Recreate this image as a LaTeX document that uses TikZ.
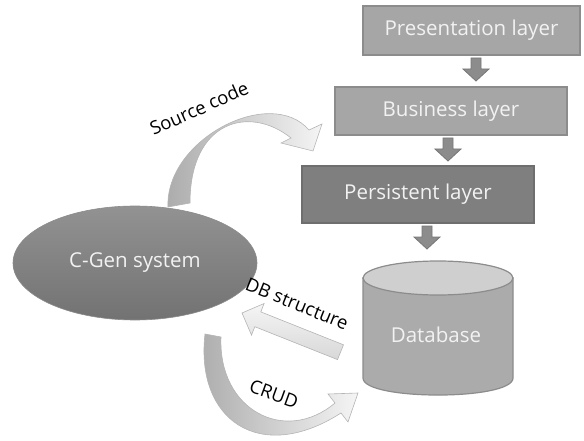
\documentclass[tikz,border=0pt]{standalone}
\usepackage{fontspec}
\setmainfont{Open Sans}
\usetikzlibrary{shapes.geometric}
\definecolor{layerfill}{HTML}{A6A6A6}
\definecolor{layerdraw}{HTML}{8C8C8C}
\definecolor{darkfill}{HTML}{7F7F7F}
\definecolor{darkdraw}{HTML}{6E6E6E}
\definecolor{lighttext}{HTML}{F2F2F2}
\definecolor{smallarrow}{HTML}{8C8C8C}
\definecolor{smallarrowdraw}{HTML}{777777}
\definecolor{dbbody}{HTML}{ABABAB}
\definecolor{dbtop}{HTML}{CFCFCF}
\definecolor{curvegray}{HTML}{ABABAB}
\definecolor{curvelight}{HTML}{F5F5F5}
\definecolor{curvedraw}{HTML}{B4B4B4}
\tikzset{
  layerbox/.style={draw=layerdraw, line width=1.2pt, fill=layerfill, text=lighttext,
    minimum width=#1, inner sep=0pt, font=\fontsize{20.5}{24}\selectfont},
  labeltext/.style={font=\fontsize{18.5}{22}\selectfont, text=black, inner sep=0pt},
  darr/.pic={\fill[smallarrow, draw=smallarrowdraw, line width=0.8pt]
     (-5,0) -- (5,0) -- (5,11) -- (13,11) -- (0,23) -- (-13,11) -- (-5,11) -- cycle;},
  curvearrow/.style={left color=curvegray, right color=curvelight, draw=curvedraw, line width=0.6pt}
}
\begin{document}
\begin{tikzpicture}[x=1pt,y=-1pt]
\useasboundingbox (0,0) rectangle (584,441);

% layer boxes
\node[layerbox=217pt, minimum height=49pt] (pres) at (471.5,30.5) {Presentation layer};
\node[layerbox=232pt, minimum height=48pt] (bus) at (451,111) {Business layer};
\node[layerbox=232pt, minimum height=57pt, fill=darkfill, draw=darkdraw] (pers) at (418,194.5) {Persistent layer};

% small down arrows
\pic at (476,58) {darr};
\pic at (448,138) {darr};
\pic at (427,226) {darr};

% database cylinder
\fill[dbbody, draw=layerdraw, line width=1.2pt]
  (363,278) -- (363,378) .. controls (363,400.7) and (513,400.7) .. (513,378) -- (513,278) -- cycle;
\draw[fill=dbtop, draw=layerdraw, line width=1.2pt] (438,278) ellipse [x radius=75, y radius=17];
\node[text=lighttext, font=\fontsize{20.5}{24}\selectfont] (db) at (436,335) {Database};

% C-Gen ellipse
\node[ellipse, minimum width=244pt, minimum height=114pt, inner sep=0pt,
      top color=darkfill!85!white, bottom color=darkfill!90!black, draw=darkdraw!80, line width=0.6pt,
      text=lighttext, font=\fontsize{20.5}{24}\selectfont] (cgen) at (135,263) {C-Gen system};

% Source code curved arrow
\path[curvearrow]
  (168,207) .. controls (165,140) and (270,85) .. (309,130)
  -- (322,124) -- (313,151) -- (281,143) -- (291,138)
  .. controls (250,105) and (190,120) .. (190,203) -- cycle;
\node[labeltext, rotate=24] (srclabel) at (199,108) {Source code};

% CRUD curved arrow
\path[curvearrow]
  (205,334) .. controls (195,420) and (260,465) .. (341,413)
  -- (348,422) -- (358,393) -- (328,394) -- (335,403)
  .. controls (285,445) and (218,410) .. (221,337) -- cycle;
\node[labeltext, rotate=-20] (crudlabel) at (274,394) {CRUD};

% DB structure straight arrow
\path[top color=curvelight, bottom color=curvelight!88!black, draw=curvedraw, line width=0.6pt]
  (242,313) -- (264.1,303.5) -- (260.8,311.9) -- (343.5,344.8) -- (337.5,359.6)
  -- (254.8,326.7) -- (251.5,335.1) -- cycle;
\node[labeltext, rotate=-22] (dblabel) at (297,304) {DB structure};
\end{tikzpicture}
\end{document}
